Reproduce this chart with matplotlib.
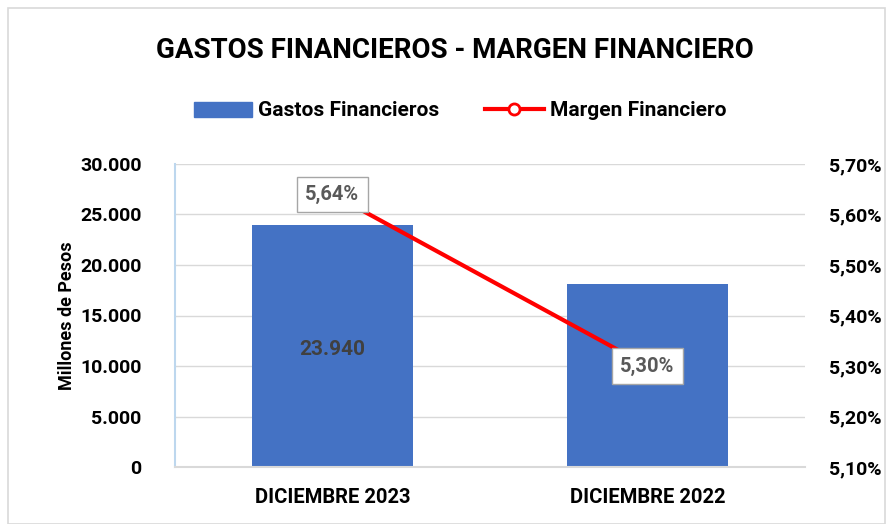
import matplotlib.pyplot as plt
from matplotlib.lines import Line2D
from matplotlib.patches import Patch, Rectangle
from matplotlib.ticker import FuncFormatter

categorias = ["DICIEMBRE 2023", "DICIEMBRE 2022"]
gastos = [23940, 18100]          # millones de pesos
margen = [5.64, 5.30]            # porcentaje
etiquetas_gastos = ["23.940", ""]

plt.rcParams['font.family'] = ['Roboto', 'DejaVu Sans']
plt.rcParams['font.weight'] = 'bold'

fig = plt.figure(figsize=(8.93, 5.24), dpi=100)
ax = fig.add_axes([175 / 893, 1 - 467 / 524, (805 - 175) / 893, (467 - 164) / 524])
ax2 = ax.twinx()

x = list(range(len(categorias)))
barras = ax.bar(x, gastos, width=0.51, color="#4472C4", zorder=2)
for b, t in zip(barras, etiquetas_gastos):
    if t:
        ax.text(b.get_x() + b.get_width() / 2, b.get_height() / 2 - 300, t,
                ha="center", va="center", fontsize=15, fontweight="bold", color="#404040")

ax.set_xlim(-0.5, 1.5)
ax.set_ylim(0, 30000)
ax.set_yticks(range(0, 30001, 5000))
ax.yaxis.set_major_formatter(FuncFormatter(lambda v, p: f"{int(v):,}".replace(",", ".")))
ax.set_xticks(x)
ax.set_xticklabels(categorias, fontsize=14.5, fontweight="bold")
ax.set_ylabel("Millones de Pesos", fontsize=13, fontweight="bold", labelpad=3)
ax.tick_params(axis="y", labelsize=14, length=0, pad=24)
ax.tick_params(axis="x", length=0, pad=15)
ax.grid(axis="y", color="#D9D9D9", linewidth=1, zorder=0)
ax.set_axisbelow(True)
for s in ["top", "right"]:
    ax.spines[s].set_visible(False)
ax.spines["left"].set_color("#BDD7EE")
ax.spines["left"].set_linewidth(1.5)
ax.spines["bottom"].set_color("#D9D9D9")
ax.spines["bottom"].set_linewidth(1.5)

ax2.plot(x, margen, color="#FF0000", linewidth=3, zorder=3)
for xi, m in zip(x, margen):
    ax2.text(xi, m, f"{m:.2f}%".replace(".", ","), ha="center", va="center",
             fontsize=14.5, fontweight="bold", color="#595959", zorder=4,
             bbox=dict(boxstyle="square,pad=0.4", fc="white", ec="#A6A6A6", lw=1))
ax2.set_ylim(5.10, 5.70)
ax2.set_yticks([5.1, 5.2, 5.3, 5.4, 5.5, 5.6, 5.7])
ax2.yaxis.set_major_formatter(FuncFormatter(lambda v, p: f"{v:.2f}%".replace(".", ",")))
ax2.tick_params(axis="y", labelsize=14, length=0, pad=17)
for s in ["top", "right", "left", "bottom"]:
    ax2.spines[s].set_visible(False)

fig.text(455 / 893, 1 - 50 / 524, "GASTOS FINANCIEROS - MARGEN FINANCIERO",
         ha="center", va="center", fontsize=20, fontweight="bold")

handles = [Patch(color="#4472C4", label="Gastos Financieros"),
           Line2D([0], [0], color="#FF0000", lw=3, marker="o", markersize=8,
                  markerfacecolor="white", markeredgecolor="#FF0000", markeredgewidth=2,
                  label="Margen Financiero")]
fig.legend(handles=handles, loc="center", bbox_to_anchor=(460 / 893, 1 - 111 / 524),
           ncol=2, frameon=False, fontsize=15, handlelength=2.8, columnspacing=2.2,
           handletextpad=0.3)

fig.patches.append(Rectangle((8 / 893, 0), 1 - 16 / 893, 1 - 8 / 524, transform=fig.transFigure,
                             fill=False, ec="#D9D9D9", lw=1.2))

fig.savefig("out.png", dpi=100)
